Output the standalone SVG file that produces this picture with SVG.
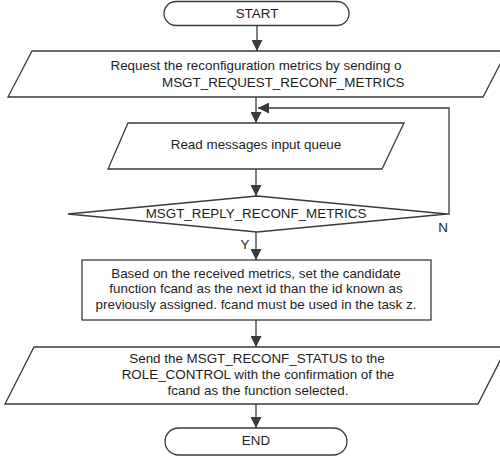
<svg xmlns="http://www.w3.org/2000/svg" width="500" height="457" viewBox="0 0 500 457">
  <style>
    .shape { fill: #ffffff; stroke: #3a3a3a; stroke-width: 1.3; }
    .wire { fill: none; stroke: #3a3a3a; stroke-width: 1.3; }
    text { font-family: "Liberation Sans", Arial, sans-serif; font-size: 13.4px; fill: #1e1e1e; }
    .c { text-anchor: middle; }
  </style>
  <defs>
    <marker id="arrow" markerUnits="userSpaceOnUse" markerWidth="11" markerHeight="11" refX="11" refY="5.5" orient="auto">
      <path d="M0,0 L11,5.5 L0,11 z" fill="#3a3a3a"/>
    </marker>
  </defs>
  <rect width="500" height="457" fill="#ffffff"/>

  <g id="connectors">
    <line class="wire" x1="257" y1="25" x2="257" y2="51" marker-end="url(#arrow)"/>
    <line class="wire" x1="256" y1="97" x2="256" y2="123" marker-end="url(#arrow)"/>
    <line class="wire" x1="256" y1="169" x2="256" y2="196" marker-end="url(#arrow)"/>
    <line class="wire" x1="256" y1="232" x2="256" y2="260" marker-end="url(#arrow)"/>
    <line class="wire" x1="256" y1="320" x2="256" y2="347" marker-end="url(#arrow)"/>
    <line class="wire" x1="256" y1="404" x2="256" y2="428" marker-end="url(#arrow)"/>
    <polyline class="wire" points="447,214 449,214 449,108 258,108" marker-end="url(#arrow)"/>
    <text x="245" y="249" class="c">Y</text>
    <text x="443" y="232" class="c">N</text>
  </g>

  <g id="start">
    <rect class="shape" x="164" y="1.5" width="185" height="24" rx="12" ry="12"/>
    <text x="257" y="18" class="c">START</text>
  </g>

  <g id="request-metrics">
    <polygon class="shape" points="32,51 507,51 483,97 8,97"/>
    <text x="256" y="69.5" class="c">Request the reconfiguration metrics by sending o</text>
    <text x="162" y="86.5">MSGT_REQUEST_RECONF_METRICS</text>
  </g>

  <g id="read-queue">
    <polygon class="shape" points="128,123 404,123 382,169 108,169"/>
    <text x="256" y="148.5" class="c">Read messages input queue</text>
  </g>

  <g id="reply-check">
    <polygon class="shape" points="257,196 447,214 257,232 68,214"/>
    <text x="256" y="217.5" class="c">MSGT_REPLY_RECONF_METRICS</text>
  </g>

  <g id="set-candidate">
    <rect class="shape" x="82" y="260" width="349" height="60"/>
    <text x="256" y="277.5" class="c">Based on the received metrics, set the candidate</text>
    <text x="256" y="292.5" class="c">function fcand as the next id than the id known as</text>
    <text x="256" y="308.5" class="c">previously assigned. fcand must be used in the task z.</text>
  </g>

  <g id="send-status">
    <polygon class="shape" points="34,347 507,347 478,404 5,404"/>
    <text x="257" y="362.5" class="c">Send the MSGT_RECONF_STATUS to the</text>
    <text x="258" y="378.5" class="c">ROLE_CONTROL with the confirmation of the</text>
    <text x="258" y="394.5" class="c">fcand as the function selected.</text>
  </g>

  <g id="end">
    <rect class="shape" x="165" y="428" width="182" height="27" rx="13.5" ry="13.5"/>
    <text x="256" y="445" class="c">END</text>
  </g>
</svg>
